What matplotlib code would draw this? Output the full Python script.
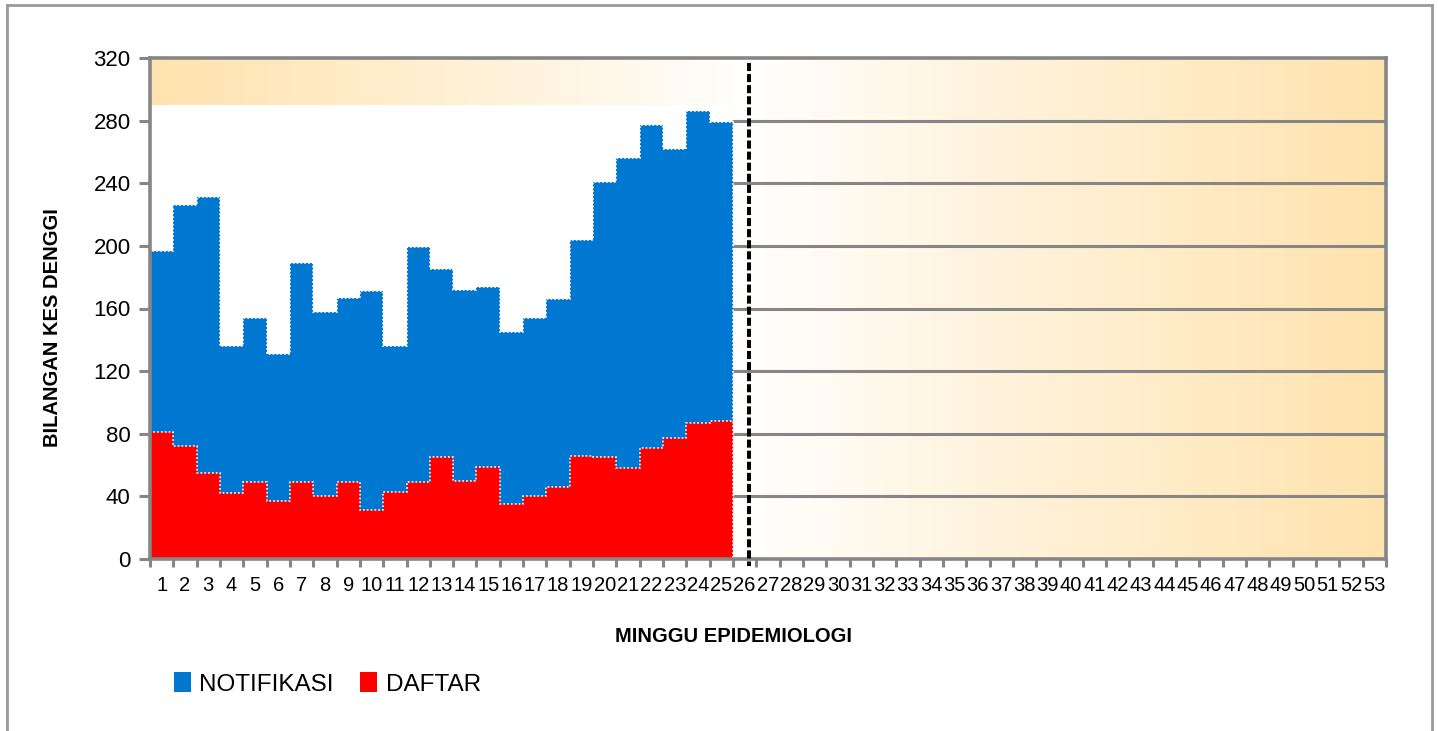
import numpy as np
import matplotlib.pyplot as plt
from matplotlib.patches import Patch
from matplotlib.lines import Line2D

plt.rcParams['font.family'] = ['Liberation Sans', 'DejaVu Sans']

# weekly dengue cases (weeks 1-25 reported so far)
weeks = np.arange(1, 54)
notifikasi = [197, 226, 231, 136, 154, 131, 189, 158, 167, 171, 136, 199, 185,
              172, 174, 145, 154, 166, 204, 241, 256, 277, 262, 286, 279]
daftar = [81, 72, 55, 42, 49, 37, 49, 40, 49, 31, 43, 49, 65,
          50, 59, 35, 40, 46, 66, 65, 58, 71, 77, 87, 88]
white_band = 290
cutoff_week = 26.2
yticks = np.arange(0, 321, 40)

blue = '#0078D2'
red = '#FF0000'
grey = '#868686'
orange = np.array([255, 227, 174]) / 255

fig = plt.figure(figsize=(14.38, 7.31), dpi=100)
ax = fig.add_axes([150 / 1438, 172 / 731, 1236 / 1438, 501 / 731])

x0, x1 = 0.5, 53.5
ax.set_xlim(x0, x1)
ax.set_ylim(0, 320)

# gradient background: orange at the sides, white near the cutoff week
xs = np.linspace(x0, x1, 800)
t = np.where(xs < cutoff_week, (cutoff_week - xs) / (cutoff_week - x0),
             (xs - cutoff_week) / (x1 - cutoff_week))
t = np.clip(t, 0, 1) ** 0.9
img = (1 - t)[:, None] * np.ones(3) + t[:, None] * orange
ax.imshow(img[None, :, :], extent=[x0, x1, 0, 320], aspect='auto', zorder=0)

# grid lines
for yv in yticks[1:-1]:
    ax.axhline(yv, color=grey, lw=2.2, zorder=1)

n = len(notifikasi)
edges = np.arange(0.5, n + 1)
ax.stairs([white_band] * n, edges, fill=True, color='white', zorder=2)
ax.stairs(notifikasi, edges, fill=True, color=blue, zorder=3)
ax.stairs(notifikasi, edges, color='white', lw=1.2, linestyle=(0, (1, 1.3)), zorder=4)
ax.stairs(daftar, edges, fill=True, color=red, zorder=5)
ax.stairs(daftar, edges, color='white', lw=1.2, linestyle=(0, (1, 1.3)), zorder=6)

# dashed cutoff line
ax.plot([cutoff_week, cutoff_week], [316.5, -4.5], color='black', lw=2.9,
        linestyle=(0, (2.0, 0.75)), clip_on=False, zorder=10)

for s in ax.spines.values():
    s.set_color(grey)
    s.set_linewidth(2.6)
    s.set_zorder(8)

ax.set_yticks(yticks)
ax.set_yticklabels([str(v) for v in yticks], fontsize=16)
ax.tick_params(axis='y', length=8, width=2.2, color=grey, pad=6)
ax.set_xticks(weeks)
ax.set_xticklabels([str(w) for w in weeks], fontsize=14.5)
ax.tick_params(axis='x', which='major', length=0, pad=12)
ax.set_xticks(np.arange(0.5, 54), minor=True)
ax.tick_params(axis='x', which='minor', length=6, width=2.2, color=grey)

fig.text(52 / 1438, 1 - 328 / 731, 'BILANGAN KES DENGGI', fontsize=14.5,
         fontweight='bold', rotation=90, ha='center', va='center')
fig.text(733 / 1438, 1 - 637 / 731, 'MINGGU EPIDEMIOLOGI', fontsize=14.5,
         fontweight='bold', ha='center', va='center')

handles = [Patch(facecolor=blue, edgecolor='none', label='NOTIFIKASI'),
           Patch(facecolor=red, edgecolor='none', label='DAFTAR')]
fig.legend(handles=handles, loc='center left', bbox_to_anchor=(164 / 1438, 1 - 684 / 731),
           frameon=False, fontsize=17.5, handlelength=0.7, handleheight=0.85,
           handletextpad=0.35, columnspacing=1.1, ncol=2, borderaxespad=0)

# outer chart frame
fig.add_artist(Line2D([7 / 1438, 7 / 1438], [0, 1 - 5 / 731], color='#999999', lw=2))
fig.add_artist(Line2D([7 / 1438, 1432 / 1438], [1 - 5 / 731, 1 - 5 / 731], color='#999999', lw=2))
fig.add_artist(Line2D([1432 / 1438, 1432 / 1438], [0, 1 - 5 / 731], color='#999999', lw=2))

fig.savefig('out.png', dpi=100)
